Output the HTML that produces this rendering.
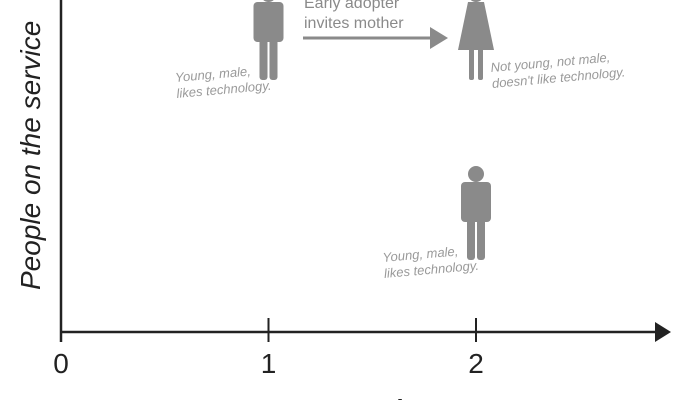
<!DOCTYPE html>
<html><head><meta charset="utf-8"><style>
html,body{margin:0;padding:0;background:#fff;width:700px;height:400px;overflow:hidden;}
svg{display:block;overflow:hidden;}
.hand{font-family:"Comic Sans MS","Liberation Sans",sans-serif;font-style:italic;fill:#9a9a9a;}
</style></head><body>
<svg id="chart" width="700" height="400" viewBox="0 0 700 400">
  <g id="axes"></g>
  <g id="marks"></g>
  <text class="hand" transform="translate(40,290) rotate(-90)" font-size="28" style="fill:#222">People on the service</text>
  <text x="360" y="428" font-size="40" fill="#222" font-family="Liberation Sans, sans-serif" text-anchor="middle">Generations</text>
  <g>
    <text x="304" y="8" font-size="16" fill="#8a8a8a" font-family="Liberation Sans, sans-serif">Early adopter</text>
    <text x="304" y="28" font-size="16" fill="#8a8a8a" font-family="Liberation Sans, sans-serif">invites mother</text>
    <line x1="303" y1="38" x2="432" y2="38" stroke="#8a8a8a" stroke-width="3"/>
    <polygon points="430,27 448,38 430,49" fill="#8a8a8a"/>
  </g>
</svg>
<script>
const ticks = [0, 1, 2];
const tickLabels = ["0", "1", "2"];
const figGen = [1, 2, 2];
const figLevel = [1, 1, 0];
const figType = ["man", "woman", "man"];
const figNotes1 = ["Young, male,", "Not young, not male,", "Young, male,"];
const figNotes2 = ["likes technology.", "doesn't like technology.", "likes technology."];

const NS = "http://www.w3.org/2000/svg";
const x0 = 61, xUnit = 207.5, yBase = 332;
function xScale(g){ return x0 + g * xUnit; }
function yScale(l){ return 260 - l * 180; }
function mk(tag, attrs, parent){ const e=document.createElementNS(NS,tag); for(const k in attrs) e.setAttribute(k, attrs[k]); parent.appendChild(e); return e; }

const axes = document.getElementById('axes');
let e;
e = mk('line',{x1:x0,y1:0,x2:x0,y2:yBase+10,stroke:'#222','stroke-width':2.5},axes);


e = mk('line',{x1:x0,y1:yBase,x2:656,y2:yBase,stroke:'#222','stroke-width':2.5},axes);


e = mk('polygon',{points:'655,322 671,332 655,342',fill:'#222'},axes);


ticks.forEach((t,i)=>{
  const x = xScale(t);
  if (t>0){
    const l = mk('line',{x1:x,y1:yBase-14,x2:x,y2:yBase+10,stroke:'#222','stroke-width':2},axes);
    
    
  }
  const tx = mk('text',{x:x,y:yBase+41,'font-size':28,'text-anchor':'middle',fill:'#222','font-family':'Liberation Sans, sans-serif'},axes);
  tx.textContent = tickLabels[i];
  
  
});

const marks = document.getElementById('marks');
const G = '#8a8a8a';
figGen.forEach((g,i)=>{
  const cx = xScale(g), fy = yScale(figLevel[i]);
  const top = fy - 78;
  const grp = mk('g',{},marks);
  
  
  mk('circle',{cx:cx,cy:top-8,r:8,fill:G},grp);
  if (figType[i]==='man'){
    mk('rect',{x:cx-15,y:top,width:30,height:40,rx:4,fill:G},grp);
    mk('rect',{x:cx-9,y:top+10,width:8,height:68,rx:3,fill:G},grp);
    mk('rect',{x:cx+1,y:top+10,width:8,height:68,rx:3,fill:G},grp);
  } else {
    mk('polygon',{points:`${cx-8},${top} ${cx+8},${top} ${cx+18},${top+48} ${cx-18},${top+48}`,fill:G},grp);
    mk('rect',{x:cx-7,y:top+45,width:5,height:33,rx:2,fill:G},grp);
    mk('rect',{x:cx+2,y:top+45,width:5,height:33,rx:2,fill:G},grp);
  }
  const nx = figType[i]==='woman' ? cx+15 : cx-93;
  const ny = figType[i]==='woman' ? fy-8 : fy+2;
  const t1 = mk('text',{x:nx,y:ny,'font-size':13,class:'hand',transform:`rotate(-5 ${nx} ${ny})`},grp);
  t1.textContent = figNotes1[i];
  
  
  const t2 = mk('text',{x:nx,y:ny+16,'font-size':13,class:'hand',transform:`rotate(-5 ${nx} ${ny})`},grp);
  t2.textContent = figNotes2[i];
  
  
});
</script>
</body></html>
